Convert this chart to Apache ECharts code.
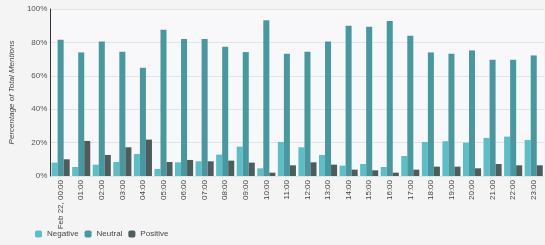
<!DOCTYPE html>
<html><head><meta charset="utf-8">
<script src="https://cdn.jsdelivr.net/npm/echarts@6/dist/echarts.min.js"></script>
<style>html,body{margin:0;padding:0;background:#f4f4f4}#c{width:545px;height:245px}</style>
</head><body><div id="c"></div>
<script>
const categories = ['Feb 22, 00:00','01:00','02:00','03:00','04:00','05:00','06:00','07:00','08:00','09:00','10:00','11:00','12:00','13:00','14:00','15:00','16:00','17:00','18:00','19:00','20:00','21:00','22:00','23:00'];
const negative = [8.0,5.4,6.8,8.4,13.2,4.2,8.2,8.8,12.8,17.6,4.6,20.4,17.2,12.6,6.2,7.2,5.4,12.0,20.4,20.8,20.0,22.8,23.6,21.6];
const neutral  = [81.6,74.0,80.6,74.4,64.8,87.6,82.0,82.0,77.4,74.2,93.2,73.2,74.4,80.6,90.0,89.4,92.8,84.0,74.0,73.2,75.2,69.6,69.6,72.2];
const positive = [10.0,21.0,12.6,17.2,21.8,8.4,9.6,8.8,9.2,8.0,2.0,6.4,8.2,6.8,3.8,3.4,2.0,3.8,5.6,5.6,4.6,7.2,6.4,6.4];
const yTicks = [0,20,40,60,80,100];

const chart = echarts.init(document.getElementById('c'), null, {renderer:'canvas'});
const font = 'Arial, "Liberation Sans", sans-serif';
chart.setOption({
  backgroundColor:'#f4f4f4',
  animation:false,
  grid:{left:43,right:1,top:9,bottom:69,show:true,backgroundColor:'#f8f8fa',borderWidth:0},
  legend:{left:30,bottom:2,itemWidth:7,itemHeight:7,itemGap:6,
    textStyle:{fontSize:8,color:'#444',fontFamily:font},
    data:['Negative','Neutral','Positive']},
  xAxis:{type:'category',data:categories,
    axisLine:{show:false},axisTick:{show:false},
    axisLabel:{rotate:90,fontSize:8,color:'#444',fontFamily:font,interval:0,margin:4}},
  yAxis:{type:'value',min:0,max:100,interval:20,
    name:'Percentage of Total Mentions',nameLocation:'middle',nameGap:34,
    nameTextStyle:{fontSize:8,color:'#444',fontStyle:'italic',fontFamily:font},
    axisLine:{show:true,lineStyle:{color:'#333',width:1}},axisTick:{show:false},
    axisLabel:{fontSize:8,color:'#555',fontFamily:font,margin:3,formatter:v=>yTicks.includes(v)?v+'%':''},
    splitLine:{lineStyle:{color:'#e4e4e4',width:1}}},
  series:[
    {name:'Negative',type:'bar',data:negative,itemStyle:{color:'#5cbec7'},barGap:'0%',barCategoryGap:'12%'},
    {name:'Neutral',type:'bar',data:neutral,itemStyle:{color:'#48999f'}},
    {name:'Positive',type:'bar',data:positive,itemStyle:{color:'#4d5c5d'}}
  ]
});
</script></body></html>
